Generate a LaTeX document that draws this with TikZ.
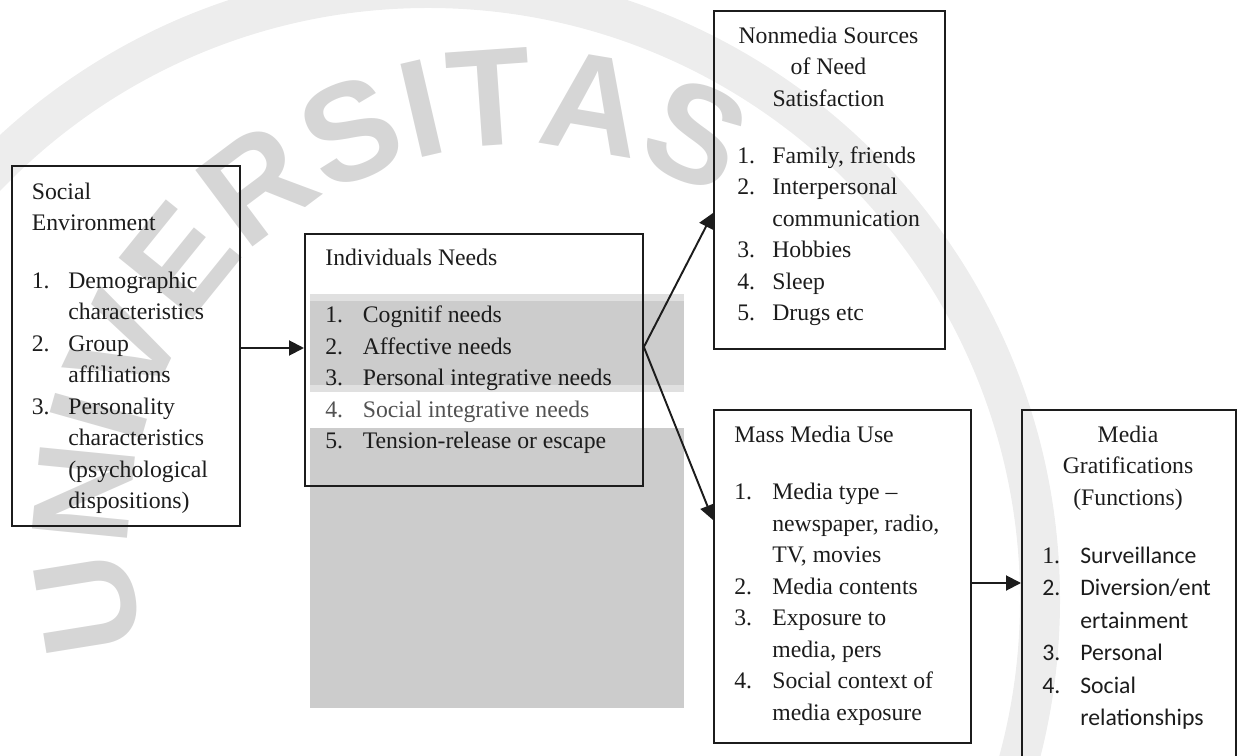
\documentclass[tikz,border=0pt]{standalone}
\usepackage{fontspec}
\setmainfont{Liberation Serif}
\newfontfamily\calibri{Carlito}
\newfontfamily\wmfont{Liberation Sans}
\usetikzlibrary{arrows.meta,decorations.text}

\definecolor{ink}{RGB}{28,28,28}
\definecolor{shadeA}{RGB}{224,224,224}
\definecolor{shadeB}{RGB}{204,204,204}
\newcommand{\itm}[3][0.75cm]{\makebox[#1][l]{#2}#3}

\tikzset{
  box/.style={draw=ink, line width=1.1pt, anchor=north west},
  txt/.style={anchor=north west, align=left, text=ink, font=\fontsize{13.5}{17.93}\selectfont},
  ttl/.style={anchor=north, align=center, text=ink, font=\fontsize{13.5}{17.93}\selectfont},
  arr/.style={draw=ink, line width=1.1pt, -{Triangle[length=0.3cm,width=0.3cm]}},
}

\begin{document}
\begin{tikzpicture}[x=0.02cm, y=0.02cm, every node/.style={inner sep=0pt}]
\useasboundingbox (0,0) rectangle (1240,-756);
\clip (0,0) rectangle (1240,-756);
% watermark
\draw[black!7, line width=0.8cm] (428,-600) circle[radius=612];
\path[decorate, decoration={text along path, text align=center, text={|\wmfont\bfseries\fontsize{79}{79}\selectfont\color{black!16}|UNIVERSITAS}}] (520,-535) ++(208:390) arc[start angle=208, end angle=48, radius=390];
% grey blocks behind the needs box
\fill[shadeA] (310,-294) rectangle (684,-392); \fill[shadeB] (310,-301) rectangle (684,-385);
\fill[shadeB] (310,-428) rectangle (684,-708);

\node[box, minimum width=4.56cm, minimum height=7.2cm] (social) at (11,-165) {};
\node[txt] (socialtxt) at (31.5,-177) {\strut Social\\ Environment\\[14.8pt]
  \itm[0.73cm]{1.}{Demographic}\\ \itm[0.73cm]{}{characteristics}\\ \itm[0.73cm]{2.}{Group}\\ \itm[0.73cm]{}{affiliations}\\
  \itm[0.73cm]{3.}{Personality}\\ \itm[0.73cm]{}{characteristics}\\ \itm[0.73cm]{}{(psychological}\\ \itm[0.73cm]{}{dispositions)}};

\node[box, minimum width=6.76cm, minimum height=5.04cm] (needs) at (304,-233) {};
\node[txt] (needstxt) at (325,-243) {\strut Individuals Needs\\[14.8pt]
  \itm{1.}{Cognitif needs}\\ \itm{2.}{Affective needs}\\ \itm{3.}{Personal integrative needs}\\
  {\color{black!68}\itm{4.}{Social integrative needs}}\\ \itm{5.}{Tension-release or escape}};

\node[box, minimum width=4.62cm, minimum height=6.76cm] (nonmedia) at (713,-10) {};
\node[ttl] (nonmediattl) at (828.5,-21) {\strut Nonmedia Sources\\ of Need\\ Satisfaction};
\node[txt] (nonmediatxt) at (737,-141) {\strut \itm[0.7cm]{1.}{Family, friends}\\ \itm[0.7cm]{2.}{Interpersonal}\\ \itm[0.7cm]{}{communication}\\
  \itm[0.7cm]{3.}{Hobbies}\\ \itm[0.7cm]{4.}{Sleep}\\ \itm[0.7cm]{5.}{Drugs etc}};

\node[box, minimum width=5.14cm, minimum height=6.66cm] (massmedia) at (713,-409) {};
\node[txt] (massmediatxt) at (734,-419.6) {\strut Mass Media Use\\[14.8pt]
  \itm[0.76cm]{1.}{Media type --}\\ \itm[0.76cm]{}{newspaper, radio,}\\ \itm[0.76cm]{}{TV, movies}\\ \itm[0.76cm]{2.}{Media contents}\\
  \itm[0.76cm]{3.}{Exposure to}\\ \itm[0.76cm]{}{media, pers}\\ \itm[0.76cm]{4.}{Social context of}\\ \itm[0.76cm]{}{media exposure}};

\node[box, minimum width=4.28cm, minimum height=7.4cm] (gratif) at (1021,-409) {};
\node[ttl] (gratifttl) at (1128,-419.6) {\strut Media\\ Gratifications\\ (Functions)};
\node[txt, font=\calibri\fontsize{13.5}{18.49}\selectfont] (gratiftxt) at (1042,-540) {\strut \itm[0.76cm]{\rmfamily 1.}{Surveillance}\\
  \itm[0.76cm]{2.}{Diversion/ent}\\ \itm[0.76cm]{}{ertainment}\\ \itm[0.76cm]{3.}{Personal}\\ \itm[0.76cm]{4.}{Social}\\ \itm[0.76cm]{}{relationships}};

\draw[arr] (social.east |- 0,-348) -- (needs.west |- 0,-348);
\draw[arr] (needs.east |- 0,-347) -- (nonmedia.west |- 0,-213);
\draw[arr] (needs.east |- 0,-347) -- (massmedia.west |- 0,-520);
\draw[arr] (massmedia.east |- 0,-583) -- (gratif.west |- 0,-583);
\end{tikzpicture}
\end{document}
